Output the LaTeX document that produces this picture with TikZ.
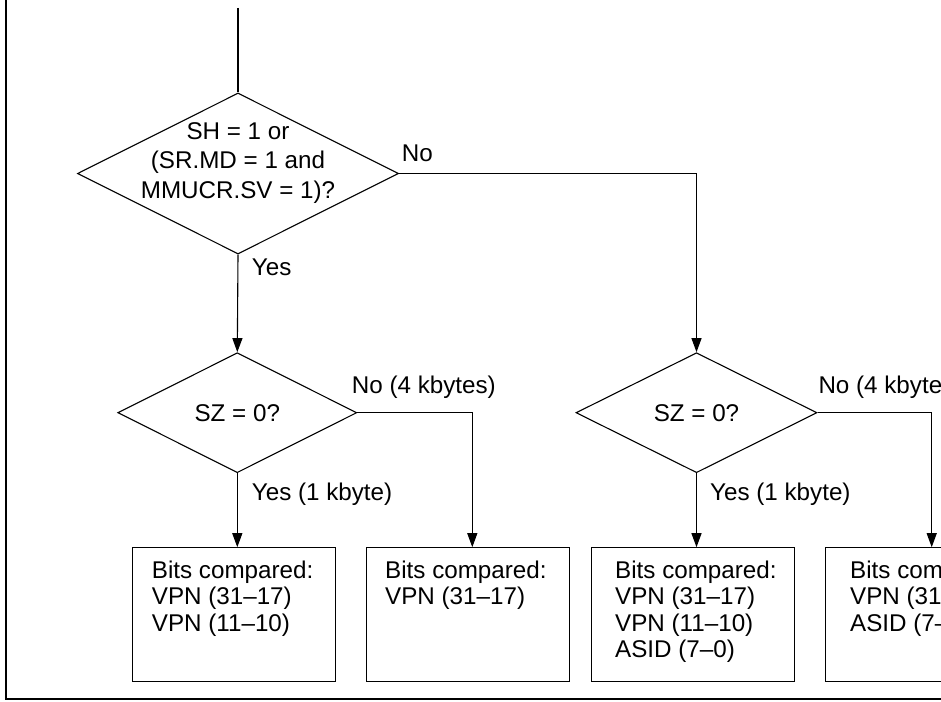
\documentclass[tikz,border=0pt]{standalone}
\usepackage{fontspec}
\setmainfont{Liberation Sans}
\usetikzlibrary{shapes.geometric,arrows.meta}

\tikzset{
  flow/.style={line width=1.1pt},
  arr/.style={flow,-{Triangle[length=14pt,width=10pt]}},
  decision/.style={diamond,draw,flow,inner sep=0pt,
    font=\fontsize{24.2}{29.3}\selectfont},
  bitsbox/.style={rectangle,draw,line width=1pt,inner sep=0pt,
    minimum width=203pt,minimum height=134pt},
  % multi-line nodes: the base anchor sits on the last line
  bitstext/.style={align=left,inner sep=0pt,anchor=base west,
    font=\fontsize{24.2}{26.5}\selectfont},
  lbl/.style={inner sep=0pt,anchor=base west,
    font=\fontsize{24.2}{28}\selectfont},
  frame/.style={line width=2.3pt}
}

\begin{document}
\begin{tikzpicture}[x=1pt,y=-1pt]
  \useasboundingbox (0,0) rectangle (941,701);
  \clip (0,0) rectangle (941,701);

  % page frame on the left and bottom
  \draw[frame] (6.2,0) -- (6.2,698.7) -- (941,698.7);

  % decisions
  \node[decision,minimum width=321pt,minimum height=161pt] (q1) at (238,173.5) {};
  \node[align=center,inner sep=0pt,anchor=base,
        font=\fontsize{24.2}{29.3}\selectfont] (q1t) at (238,198.1)
        {SH = 1 or\\(SR.MD = 1 and\\MMUCR.SV = 1)?};
  \node[decision,minimum width=239pt,minimum height=120pt] (s1) at (237.3,412.7) {SZ = 0?};
  \node[decision,minimum width=241pt,minimum height=120pt] (s2) at (696.5,412.7) {SZ = 0?};

  % result boxes
  \node[bitsbox] (b1) at (234,614.7) {};
  \node[bitsbox] (b2) at (468.3,614.7) {};
  \node[bitsbox] (b3) at (693,614.7) {};
  \node[bitsbox] (b4) at (927.2,614.7) {};

  \node[bitstext] (t1) at (151.7,631.3) {Bits compared:\\VPN (31–17)\\VPN (11–10)};
  \node[bitstext] (t2) at (385,604.8) {Bits compared:\\VPN (31–17)};
  \node[bitstext] (t3) at (615,657.8) {Bits compared:\\VPN (31–17)\\VPN (11–10)\\ASID (7–0)};
  \node[bitstext] (t4) at (850,631.3) {Bits compared:\\VPN (31–17)\\ASID (7–0)};

  % connectors
  \coordinate (entry) at (238,8);
  \draw[flow] (entry) -- (q1.north);
  \draw[arr] (q1.south) -- (s1.north);
  \draw[arr] (q1.east) -| (s2.north);
  \draw[arr] (s1.south) -- (s1.south |- b1.north);
  \draw[arr] (s1.east) -| ([xshift=4pt]b2.north);
  \draw[arr] (s2.south) -- (s2.south |- b3.north);
  \draw[arr] (s2.east) -| ([xshift=4.5pt]b4.north);

  % branch labels
  \node[lbl] (lno) at (401.7,161) {No};
  \node[lbl] (lyes) at (251.7,275) {Yes};
  \node[lbl] (l1no) at (351.7,393) {No (4 kbytes)};
  \node[lbl] (l1yes) at (251.7,500) {Yes (1 kbyte)};
  \node[lbl] (l2no) at (818.3,393) {No (4 kbytes)};
  \node[lbl] (l2yes) at (710,500) {Yes (1 kbyte)};
\end{tikzpicture}
\end{document}
